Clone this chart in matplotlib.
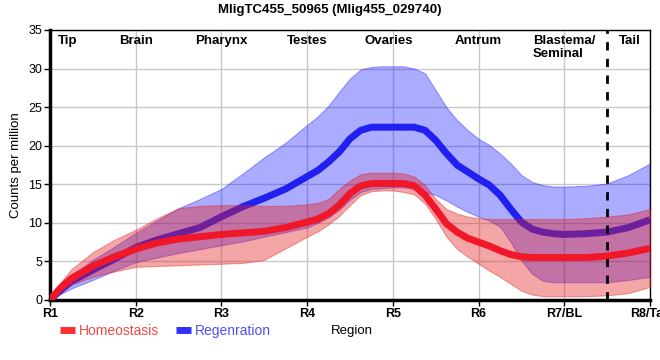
import numpy as np
import matplotlib.pyplot as plt
from matplotlib.lines import Line2D

plt.rcParams['font.family'] = ['Liberation Sans', 'DejaVu Sans']

# positions along the body (R1 = 0 ... R8 = 7); denser readings where the curves bend
pos = [0, 0.125, 0.25, 0.5, 0.75, 1.0, 1.25, 1.5, 1.75, 2.0, 2.25, 2.5, 2.75,
       3.0, 3.125, 3.25, 3.375, 3.5, 3.625, 3.75, 3.875, 4.0, 4.125, 4.25, 4.375,
       4.5, 4.625, 4.75, 4.875, 5.0, 5.125, 5.25, 5.375, 5.5, 5.625, 5.75, 5.875,
       6.0, 6.25, 6.5, 6.75, 7.0]

homeo_mean = [0, 1.6, 2.8, 4.4, 5.6, 6.6, 7.4, 7.9, 8.2, 8.5, 8.7, 8.9, 9.4,
              10.1, 10.5, 11.2, 12.3, 13.8, 14.8, 15.1, 15.1, 15.1, 15.1, 14.8, 13.6,
              11.8, 9.9, 8.8, 8.0, 7.5, 7.0, 6.4, 5.9, 5.6, 5.5, 5.5, 5.5,
              5.5, 5.5, 5.7, 6.1, 6.7]
homeo_hi = [0, 2.3, 4.0, 6.2, 7.8, 9.1, 10.6, 11.9, 12.2, 12.3, 12.3, 12.2, 12.2,
            12.4, 12.6, 13.1, 14.4, 15.5, 16.3, 16.5, 16.5, 16.5, 16.4, 16.0, 14.9,
            13.1, 11.8, 11.2, 10.8, 10.6, 10.5, 10.5, 10.5, 10.5, 10.5, 10.5, 10.5,
            10.5, 10.6, 10.8, 11.1, 11.8]
homeo_lo = [0, 1.1, 2.0, 3.0, 3.7, 4.3, 4.4, 4.5, 4.6, 4.7, 4.8, 5.2, 6.7,
            8.2, 8.9, 9.8, 10.9, 12.3, 13.6, 14.1, 14.2, 14.2, 14.0, 13.7, 12.5,
            10.5, 8.2, 6.6, 5.6, 4.7, 3.8, 3.0, 2.1, 1.2, 0.7, 0.5, 0.5,
            0.5, 0.5, 0.6, 0.9, 1.7]

regen_mean = [0, 1.3, 2.4, 3.9, 5.3, 6.8, 7.8, 8.6, 9.4, 10.8, 12.1, 13.2, 14.4,
              16.0, 16.8, 17.9, 19.2, 20.9, 22.0, 22.4, 22.4, 22.4, 22.4, 22.4, 22.0,
              20.7, 19.0, 17.5, 16.6, 15.7, 14.9, 13.6, 11.8, 10.1, 9.2, 8.8, 8.6,
              8.5, 8.6, 8.8, 9.4, 10.4]
regen_hi = [0, 1.8, 3.2, 5.2, 6.9, 8.7, 10.3, 11.9, 13.1, 14.4, 16.4, 18.5, 20.4,
            22.7, 23.8, 25.2, 27.0, 28.7, 29.9, 30.2, 30.3, 30.3, 30.3, 30.0, 29.4,
            27.2, 25.0, 23.3, 22.0, 20.9, 20.1, 19.0, 17.7, 16.2, 15.3, 14.9, 14.7,
            14.7, 14.8, 15.1, 16.2, 17.7]
regen_lo = [0, 0.8, 1.5, 2.6, 3.8, 4.9, 5.5, 6.1, 6.6, 7.1, 7.6, 8.2, 8.8,
            9.4, 10.0, 10.7, 11.7, 13.0, 14.0, 14.4, 14.5, 14.6, 14.6, 14.4, 14.0,
            13.6, 12.9, 12.1, 11.4, 10.8, 10.3, 9.5, 7.5, 5.1, 3.4, 2.5, 2.3,
            2.3, 2.3, 2.3, 2.6, 3.0]

tick_labels = ['R1', 'R2', 'R3', 'R4', 'R5', 'R6', 'R7/BL', 'R8/Tail']
organs = ['Tip', 'Brain', 'Pharynx', 'Testes', 'Ovaries', 'Antrum', 'Blastema/\nSeminal', 'Tail']
organ_pos = [0.21, 1.0, 2.0, 3.0, 3.95, 5.0, 6.0, 6.77]
tail_start = 6.5

red = '#e51e1e'
blue = '#0000ff'

fig = plt.figure(figsize=(6.6, 3.6), dpi=100)
ax = fig.add_axes([50 / 660, 60 / 360, 600 / 660, 270 / 360])

ax.fill_between(pos, regen_lo, regen_hi, color=blue, alpha=0.33, lw=0.8, zorder=2)
ax.plot(pos, regen_mean, color='#2020f0', lw=5, solid_capstyle='butt', solid_joinstyle='round', zorder=3)
ax.fill_between(pos, homeo_lo, homeo_hi, color=red, alpha=0.4, lw=0.8, zorder=4)
ax.plot(pos, homeo_mean, color='#f01828', lw=5, solid_capstyle='butt', solid_joinstyle='round', zorder=5)

ax.axvline(tail_start, color='black', ls=(0, (3, 3)), lw=2, zorder=6)

for name, x in zip(organs, organ_pos):
    ax.text(x, 34.4, name, ha='center', va='top', fontsize=9.5, fontweight='bold',
            multialignment='left', zorder=7)

ax.set_xlim(0, 7)
ax.set_ylim(0, 35)
ax.set_xticks(range(8))
ax.set_xticklabels(tick_labels, fontweight='bold', fontsize=9)
ax.set_yticks(range(0, 36, 5))
ax.tick_params(axis='y', labelsize=9, length=4, width=1, pad=1.5)
ax.tick_params(axis='x', length=4, width=1, pad=2)
ax.grid(color='#c8c8c8', lw=1)
ax.set_axisbelow(True)
for side in ['left', 'bottom']:
    ax.spines[side].set_linewidth(2.5)
for side in ['top', 'right']:
    ax.spines[side].set_linewidth(1)

ax.set_ylabel('Counts per million', fontsize=9.5, labelpad=4.5)
fig.text(331 / 660, 1 - 331 / 360, 'Region', fontsize=9.5, va='center', ha='left')
fig.suptitle('MligTC455_50965 (Mlig455_029740)', fontsize=9.5, fontweight='bold', y=0.99, va='top')

handles = [Line2D([], [], color='#ff3030', lw=5, solid_capstyle='butt'),
           Line2D([], [], color='#3030ff', lw=5, solid_capstyle='butt')]
leg = fig.legend(handles, ['Homeostasis', 'Regenration'], ncol=2, frameon=False,
                 loc='center left', bbox_to_anchor=(47 / 660, 1 - 331 / 360),
                 fontsize=10, handlelength=1.1, handletextpad=0.3, columnspacing=1.2)
for txt, c in zip(leg.get_texts(), ['#f04848', '#5050f0']):
    txt.set_color(c)

fig.savefig('out.png', dpi=100)
